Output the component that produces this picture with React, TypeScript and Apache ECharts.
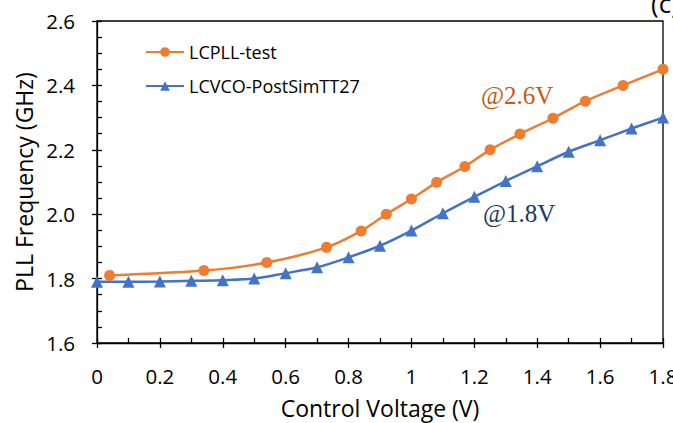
import React, { useEffect, useRef } from "react";
import * as echarts from "echarts";

const orangeX = [0.04, 0.34, 0.54, 0.73, 0.84, 0.92, 1.0, 1.08, 1.17, 1.25, 1.345, 1.45, 1.553, 1.673, 1.8];
const orangeY = [1.81, 1.825, 1.85, 1.897, 1.948, 2.0, 2.047, 2.099, 2.148, 2.2, 2.249, 2.298, 2.351, 2.4, 2.45];
const blueX = [0, 0.1, 0.2, 0.3, 0.4, 0.5, 0.6, 0.7, 0.8, 0.9, 1.0, 1.1, 1.2, 1.3, 1.4, 1.5, 1.6, 1.7, 1.8];
const blueY = [1.79, 1.79, 1.791, 1.793, 1.795, 1.8, 1.817, 1.835, 1.866, 1.902, 1.949, 2.003, 2.054, 2.103, 2.149, 2.194, 2.23, 2.266, 2.3];
const seriesNames = ["LCPLL-test", "LCVCO-PostSimTT27"];
const annotations = ["@2.6V", "@1.8V"];
const panelLabel = "(c)";
const xTitle = "Control Voltage (V)";
const yTitle = "PLL Frequency (GHz)";

const FONT = "'Open Sans', sans-serif";

export default function App() {
  const ref = useRef<HTMLDivElement>(null);
  useEffect(() => {
    document.body.style.margin = "0";
    if (!ref.current) return;
    const chart = echarts.init(ref.current, null, { renderer: "svg" });
    const black = "#000";
    const axisCommon = {
      axisLine: { show: true, lineStyle: { color: black, width: 1.3 } },
      splitLine: { show: false },
    };
    chart.setOption({
      animation: false,
      backgroundColor: "#fff",
      grid: {
        left: 97,
        right: 10,
        top: 21,
        bottom: 80,
        show: true,
        borderColor: black,
        borderWidth: 1.3,
        containLabel: false,
        outerBoundsMode: "none",
      },
      legend: {
        data: seriesNames,
        orient: "vertical",
        left: 145,
        top: 41,
        padding: 0,
        itemWidth: 38,
        itemHeight: 12,
        itemGap: 12,
        textStyle: { fontFamily: FONT, fontSize: 18, color: "#000", lineHeight: 22 },
      },
      xAxis: [
        {
          type: "value",
          min: 0,
          max: 1.8,
          interval: 0.2,
          ...axisCommon,
          axisTick: { show: true, inside: true, length: 5, lineStyle: { color: black, width: 1.3 } },
          minorTick: { show: true, splitNumber: 2, length: 5, lineStyle: { color: black, width: 1.3 } },
          axisLabel: { fontFamily: FONT, fontSize: 20.5, color: "#000", margin: 22 },
          name: xTitle,
          nameLocation: "middle",
          nameGap: 53,
          nameTextStyle: { fontFamily: FONT, fontSize: 23, color: "#000" },
        },
        {
          type: "value",
          position: "bottom",
          min: 0,
          max: 1.8,
          interval: 0.2,
          axisLine: { show: false },
          splitLine: { show: false },
          axisLabel: { show: false },
          axisTick: { show: true, inside: false, length: 5, lineStyle: { color: black, width: 1.3 } },
        },
      ],
      yAxis: [
        {
          type: "value",
          min: 1.6,
          max: 2.6,
          interval: 0.2,
          ...axisCommon,
          axisTick: { show: true, inside: true, length: 5, lineStyle: { color: black, width: 1.3 } },
          minorTick: { show: true, splitNumber: 4, length: 5, lineStyle: { color: black, width: 1.3 } },
          axisLabel: {
            fontFamily: FONT,
            fontSize: 20.5,
            color: "#000",
            margin: 22,
            formatter: (v: number) => v.toFixed(1),
          },
          name: yTitle,
          nameLocation: "middle",
          nameGap: 58,
          nameTextStyle: { fontFamily: FONT, fontSize: 23, color: "#000" },
        },
        {
          type: "value",
          position: "left",
          min: 1.6,
          max: 2.6,
          interval: 0.2,
          axisLine: { show: false },
          splitLine: { show: false },
          axisLabel: { show: false },
          axisTick: { show: true, inside: false, length: 5, lineStyle: { color: black, width: 1.3 } },
        },
      ],
      series: [
        {
          name: seriesNames[0],
          type: "line",
          smooth: 0.3,
          data: orangeX.map((x, i) => [x, orangeY[i]]),
          symbol: "circle",
          symbolSize: 11,
          lineStyle: { color: "#ED7D31", width: 2.5 },
          itemStyle: { color: "#ED7D31" },
          z: 3,
        },
        {
          name: seriesNames[1],
          type: "line",
          smooth: 0.3,
          data: blueX.map((x, i) => [x, blueY[i]]),
          symbol: "triangle",
          symbolSize: 12,
          lineStyle: { color: "#4472C4", width: 2.5 },
          itemStyle: { color: "#4472C4" },
          z: 2,
        },
      ],
      graphic: [
        {
          type: "text",
          left: 481,
          top: 83,
          style: {
            text: annotations[0],
            font: "25px 'Liberation Serif', 'Times New Roman', serif",
            fill: "#C55A11",
          },
        },
        {
          type: "text",
          left: 483,
          top: 201,
          style: {
            text: annotations[1],
            font: "25px 'Liberation Serif', 'Times New Roman', serif",
            fill: "#203864",
          },
        },
        {
          type: "text",
          left: 651,
          top: -10,
          style: {
            text: panelLabel,
            font: "26px " + FONT,
            fill: "#000",
          },
        },
      ],
    });
    return () => chart.dispose();
  }, []);
  return <div ref={ref} style={{ width: 673, height: 423 }} />;
}
